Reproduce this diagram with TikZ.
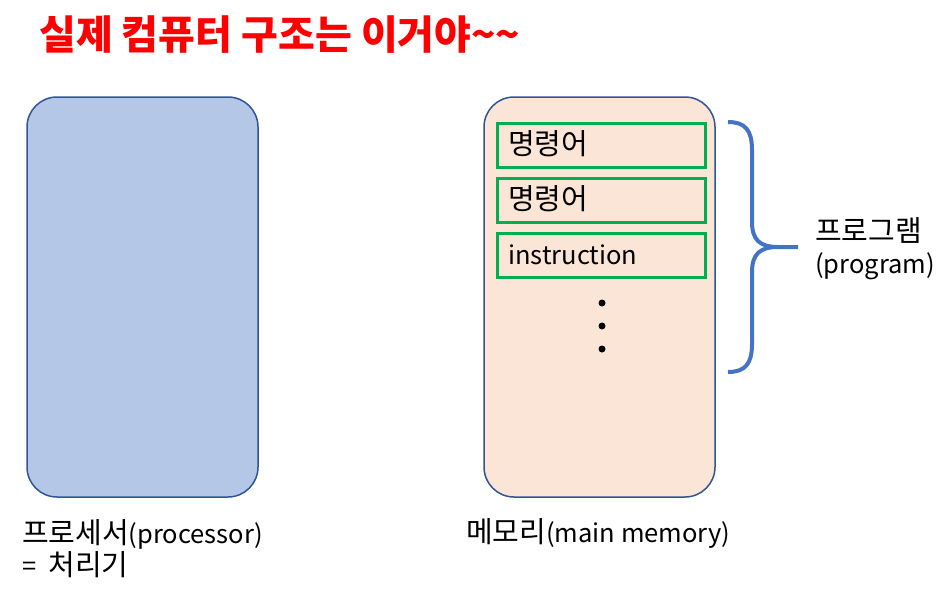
\documentclass[tikz,border=0pt]{standalone}
\usepackage{fontspec}
\setmainfont{Noto Sans CJK KR}
\definecolor{procfill}{HTML}{B4C7E7}
\definecolor{boxline}{HTML}{2F5597}
\definecolor{memfill}{HTML}{FBE5D6}
\definecolor{instgreen}{HTML}{00B050}
\definecolor{braceblue}{HTML}{4472C4}
\definecolor{titlered}{HTML}{FF0000}
\newcommand{\ko}[1]{{\fontsize{29}{32}\selectfont #1}}
\newcommand{\la}[1]{{\fontsize{25.5}{30}\selectfont #1}}
\tikzset{
  unitbox/.style={draw=boxline, line width=1.5pt, rounded corners=30pt},
  instbox/.style={draw=instgreen, line width=2.5pt, minimum width=208pt, minimum height=44pt, inner sep=0pt},
  lbl/.style={inner sep=0pt, anchor=base west},
  dot/.style={circle, fill=black, inner sep=0pt, minimum size=7pt},
}
\begin{document}
\begin{tikzpicture}[x=1pt,y=-1pt]
\useasboundingbox (0,0) rectangle (952,605);
% title
\node[anchor=base west, inner sep=0pt, text=titlered, font=\fontsize{40}{44}\selectfont\bfseries] (title) at (39,49) {실제 컴퓨터 구조는 이거야\textasciitilde\textasciitilde};
% processor
\draw[unitbox, fill=procfill] (27,97) rectangle (258,497);
\node[lbl] (proclbl) at (22,543) {\ko{프로세서}\la{(processor)}};
\node[lbl] (proclbl2) at (22,575) {\la{=}\hspace{12pt}\ko{처리기}};
% memory
\draw[unitbox, fill=memfill] (484,97) rectangle (715,497);
\node[lbl] (memlbl) at (466,542) {\ko{메모리}\la{(main memory)}};
% instructions
\node[instbox, anchor=north west] (i1) at (496,122) {};
\node[instbox, anchor=north west] (i2) at (496,177) {};
\node[instbox, anchor=north west] (i3) at (496,232) {};
\node[lbl] (t1) at (508,154) {\ko{명령어}};
\node[lbl] (t2) at (508,209) {\ko{명령어}};
\node[lbl] (t3) at (508,264) {\la{instruction}};
\node[dot] (d1) at (602,303) {};
\node[dot] (d2) at (602,326) {};
\node[dot] (d3) at (602,349) {};
% brace
\coordinate (btop) at (728,122);
\coordinate (bmid) at (798,247);
\coordinate (bbot) at (728,372);
\draw[braceblue, line width=4pt] (btop) .. controls (745,122) and (752,130) .. (752,150)
  -- (752,222) .. controls (752,240) and (760,247) .. (778,247) -- (bmid);
\draw[braceblue, line width=4pt] (bbot) .. controls (745,372) and (752,364) .. (752,344)
  -- (752,272) .. controls (752,254) and (760,247) .. (778,247);
\node[lbl] (prog1) at (815,241) {\ko{프로그램}};
\node[lbl] (prog2) at (815,273) {\la{(program)}};
\end{tikzpicture}
\end{document}
